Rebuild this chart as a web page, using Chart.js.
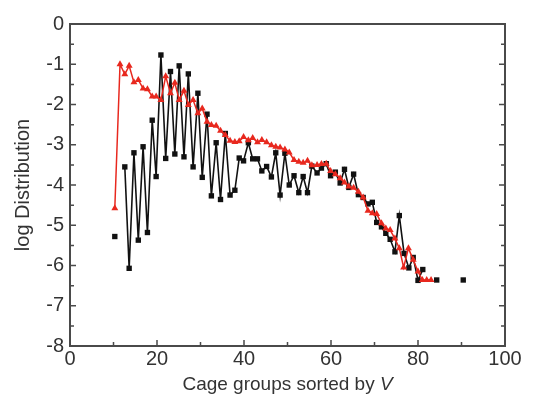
<!DOCTYPE html>
<html lang="en">
<head>
  <meta charset="UTF-8" />
  <title>log Distribution</title>
  <script src="https://cdn.jsdelivr.net/npm/chart.js"></script>
  <style>
    body { margin: 0; padding: 0; background: #fff; }
    .wrap { width: 547px; height: 397px; }
  </style>
</head>
<body>
  <div class="wrap"><canvas id="chart" width="547" height="397"></canvas></div>
  <script>
    // black squares (null = line break)
    const blackX = [10.3, 11.5, 12.6, 13.6, 14.7, 15.7, 16.8, 17.8, 18.9, 19.8, 20.9, 22.0, 23.1, 24.1, 25.1, 26.2,
      27.2, 28.3, 29.4, 30.4, 31.5, 32.5, 33.6, 34.6, 35.7, 36.8, 37.9, 38.9, 39.9, 41.0, 42.0, 43.1, 44.1, 45.2,
      46.3, 47.3, 48.3, 49.4, 50.4, 51.5, 52.6, 53.6, 54.6, 55.6, 56.8, 57.8, 58.9, 59.9, 61.0, 62.1, 63.1, 64.1,
      65.2, 66.3, 67.4, 68.5, 69.5, 70.5, 71.6, 72.6, 73.6, 74.7, 75.7, 76.8, 77.9, 78.9, 80.0, 81.1, 82.5, 84.3,
      87.0, 90.4];
    const blackY = [-5.28, null, -3.55, -6.07, -3.2, -5.37, -3.05, -5.18, -2.39, -3.79, -0.77, -3.34, -1.18, -3.23,
      -1.04, -3.3, -1.24, -3.55, -1.72, -3.81, -2.24, -4.27, -2.95, -4.36, -2.72, -4.25, -4.13, -3.33, -3.4, -2.95,
      -3.35, -3.35, -3.65, -3.54, -3.8, -3.2, -4.25, -3.21, -4.0, -3.77, -4.19, -3.79, -4.19, -3.53, -3.7, -3.58,
      -3.47, -3.77, -3.68, -3.95, -3.61, -4.06, -3.73, -4.24, -4.31, -4.47, -4.43, -4.93, -5.04, -5.2, -5.35, -5.66,
      -4.76, -5.7, -6.06, -5.8, -6.37, -6.1, null, -6.36, null, -6.36];

    // red triangles
    const redX = [10.3, 11.5, 12.6, 13.6, 14.7, 15.7, 16.8, 17.8, 18.9, 19.8, 20.9, 22.0, 23.1, 24.1, 25.1, 26.2,
      27.2, 28.3, 29.4, 30.4, 31.5, 32.5, 33.6, 34.6, 35.7, 36.8, 37.9, 38.9, 39.9, 41.0, 42.0, 43.1, 44.1, 45.2,
      46.3, 47.3, 48.3, 49.4, 50.4, 51.5, 52.6, 53.6, 54.6, 55.6, 56.8, 57.8, 58.9, 59.9, 61.0, 62.1, 63.1, 64.1,
      65.2, 66.3, 67.4, 68.5, 69.5, 70.5, 71.6, 72.6, 73.6, 74.7, 75.7, 76.7, 77.8, 78.9, 80.0, 81.0, 82.0, 83.0];
    const redY = [-4.58, -1.0, -1.25, -1.04, -1.45, -1.39, -1.6, -1.62, -1.8, -1.8, -1.89, -1.3, -1.72, -1.46, -1.89,
      -1.66, -2.01, -1.89, -2.22, -2.1, -2.43, -2.51, -2.53, -2.65, -2.76, -2.9, -2.93, -2.91, -2.81, -2.89, -2.83,
      -2.94, -2.88, -2.94, -3.01, -3.05, -3.07, -3.12, -3.19, -3.38, -3.42, -3.45, -3.4, -3.51, -3.5, -3.48, -3.47,
      -3.65, -3.73, -3.83, -3.94, -4.04, -4.07, -4.17, -4.31, -4.64, -4.7, -4.72, -4.95, -5.08, -5.12, -5.33, -5.57,
      -6.05, -5.57, -5.86, -6.15, -6.36, -6.36, -6.36];

    const xTicks = [0, 20, 40, 60, 80, 100];
    const yTicks = [0, -1, -2, -3, -4, -5, -6, -7, -8];

    const pts = (xs, ys) => xs.map((x, i) => ({ x: x, y: ys[i] }));

    const FONT = '"Liberation Sans", Arial, sans-serif';
    const AXIS = '#4a4a4a';

    // frame, inward ticks and axis titles
    const decor = {
      id: 'decor',
      afterDraw(chart) {
        const c = chart.ctx, a = chart.chartArea;
        const xs = chart.scales.x, ys = chart.scales.y;
        c.save();
        c.strokeStyle = AXIS;
        c.lineWidth = 2;
        c.strokeRect(a.left, a.top, a.right - a.left, a.bottom - a.top);
        c.lineWidth = 1.5;
        c.beginPath();
        for (let v = 0; v <= 100; v += 10) {
          const px = xs.getPixelForValue(v);
          const len = v % 20 === 0 ? 6 : 4;
          c.moveTo(px, a.bottom); c.lineTo(px, a.bottom - len);
        }
        for (let v = -8; v <= 0; v += 0.5) {
          const py = ys.getPixelForValue(v);
          const len = Number.isInteger(v) ? 6 : 4;
          c.moveTo(a.left, py); c.lineTo(a.left + len, py);
          c.moveTo(a.right, py); c.lineTo(a.right - len, py);
        }
        c.stroke();

        c.fillStyle = '#333';
        c.textBaseline = 'alphabetic';
        // x title with italic V
        const t1 = 'Cage groups sorted by ', t2 = 'V';
        c.font = '19px ' + FONT;
        const w1 = c.measureText(t1).width;
        c.font = 'italic 19px ' + FONT;
        const w2 = c.measureText(t2).width;
        let sx = (a.left + a.right) / 2 - (w1 + w2) / 2;
        c.font = '19px ' + FONT;
        c.textAlign = 'left';
        c.fillText(t1, sx, 390);
        c.font = 'italic 19px ' + FONT;
        c.fillText(t2, sx + w1, 390);
        // y title
        c.translate(29, (a.top + a.bottom) / 2);
        c.rotate(-Math.PI / 2);
        c.font = '20px ' + FONT;
        c.textAlign = 'center';
        c.fillText('log Distribution', 0, 0);
        c.restore();
      }
    };

    new Chart(document.getElementById('chart'), {
      type: 'scatter',
      data: {
        datasets: [
          {
            data: pts(redX, redY),
            showLine: true,
            spanGaps: false,
            borderColor: '#e8281e',
            backgroundColor: '#e8281e',
            borderWidth: 1.5,
            pointStyle: 'triangle',
            pointRadius: 4,
            pointBorderWidth: 0
          },
          {
            data: pts(blackX, blackY),
            showLine: true,
            spanGaps: false,
            borderColor: '#111',
            backgroundColor: '#111',
            borderWidth: 1.6,
            pointStyle: 'rect',
            pointRadius: 3.8,
            pointBorderWidth: 0
          }
        ]
      },
      options: {
        responsive: false,
        animation: false,
        layout: { padding: { left: 0, right: 42, top: 24, bottom: 0 } },
        plugins: { legend: { display: false }, tooltip: { enabled: false } },
        scales: {
          x: {
            type: 'linear', min: 0, max: 100,
            afterBuildTicks: s => { s.ticks = xTicks.map(v => ({ value: v })); },
            afterFit: s => { s.height = 51; },
            grid: { display: false, drawTicks: false },
            border: { display: false },
            ticks: { color: '#333', font: { family: FONT, size: 20 }, padding: 1, maxRotation: 0 }
          },
          y: {
            type: 'linear', min: -8, max: 0,
            afterBuildTicks: s => { s.ticks = yTicks.map(v => ({ value: v })); },
            afterFit: s => { s.width = 70; },
            grid: { display: false, drawTicks: false },
            border: { display: false },
            ticks: { color: '#333', font: { family: FONT, size: 20 }, padding: 6 }
          }
        }
      },
      plugins: [decor]
    });
  </script>
</body>
</html>
